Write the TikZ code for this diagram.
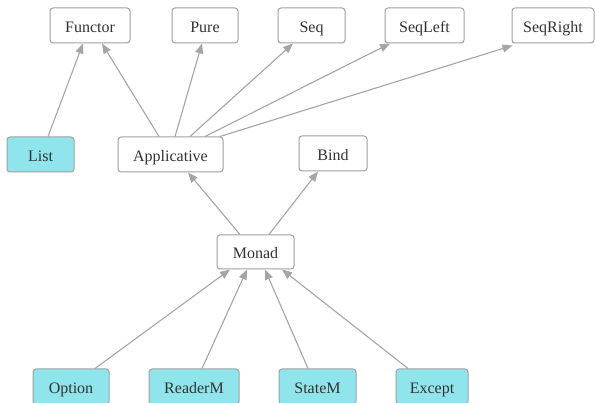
\documentclass[tikz,border=0pt]{standalone}
\usepackage{fontspec}
\setmainfont{Liberation Serif}
\usetikzlibrary{arrows.meta}
\definecolor{edgegray}{RGB}{165,165,165}
\definecolor{boxline}{RGB}{160,160,160}
\definecolor{cyanfill}{RGB}{144,229,236}
\definecolor{txt}{RGB}{51,51,51}
\tikzset{
  cls/.style={draw=boxline, line width=1pt, rounded corners=3pt, fill=white,
    minimum height=35pt, inner sep=0pt, text=txt,
    text height=14pt, text depth=0pt,
    font=\fontsize{16}{19}\selectfont},
  impl/.style={cls, fill=cyanfill},
  arr/.style={draw=edgegray, line width=1.1pt,
    -{Triangle[length=10pt,width=8pt]}},
}
\begin{document}
\begin{tikzpicture}[x=1pt,y=-1pt]
\useasboundingbox (0,0) rectangle (595,403);
\clip (0,0) rectangle (595,403);
% top row
\node[cls, minimum width=80pt] (functor) at (90,25.5) {Functor};
\node[cls, minimum width=66pt] (pure) at (205,25.5) {Pure};
\node[cls, minimum width=67pt] (seq) at (311.5,25.5) {Seq};
\node[cls, minimum width=79pt] (seqleft) at (424.5,25.5) {SeqLeft};
\node[cls, minimum width=82pt] (seqright) at (553,25.5) {SeqRight};
% middle row
\node[impl, minimum width=67pt] (list) at (40.5,154.5) {List};
\node[cls, minimum width=105pt] (app) at (170.5,154.5) {Applicative};
\node[cls, minimum width=68pt] (bind) at (333,153.5) {Bind};
% monad
\node[cls, minimum width=77pt, minimum height=34pt] (monad) at (255.5,252) {Monad};
% bottom row
\node[impl, minimum width=76pt] (option) at (71,386.5) {Option};
\node[impl, minimum width=90pt] (reader) at (194,386.5) {ReaderM};
\node[impl, minimum width=77pt] (state) at (317.5,386.5) {StateM};
\node[impl, minimum width=72pt] (except) at (432,386.5) {Except};
% edges
\draw[arr] ([xshift=7.5pt]list.north) -- ([xshift=-7pt]functor.south);
\draw[arr] ([xshift=-11.5pt]app.north) -- ([xshift=12pt]functor.south);
\draw[arr] ([xshift=4.5pt]app.north) -- ([xshift=-3pt]pure.south);
\draw[arr] ([xshift=19.5pt]app.north) -- ([xshift=-18.5pt]seq.south);
\draw[arr] ([xshift=34.5pt]app.north) -- ([xshift=-34.5pt]seqleft.south);
\draw[arr] ([xshift=49.5pt]app.north) -- ([xshift=1pt,yshift=-2pt]seqright.south west);
\draw[arr] ([xshift=-15.5pt]monad.north) -- ([xshift=17.5pt]app.south);
\draw[arr] ([xshift=13.5pt]monad.north) -- ([xshift=-15pt]bind.south);
\draw[arr] ([xshift=24pt]option.north) -- ([xshift=-25.5pt]monad.south);
\draw[arr] ([xshift=8pt]reader.north) -- ([xshift=-8.5pt]monad.south);
\draw[arr] ([xshift=-9.5pt]state.north) -- ([xshift=9.5pt]monad.south);
\draw[arr] ([xshift=-24pt]except.north) -- ([xshift=26.5pt]monad.south);
\end{tikzpicture}
\end{document}
